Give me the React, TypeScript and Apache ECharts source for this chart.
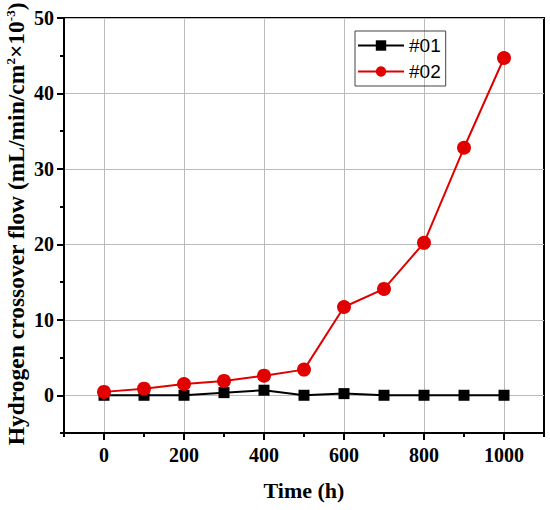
import React, { useEffect, useRef } from 'react';
import * as echarts from 'echarts';

const timeHours = [0, 100, 200, 300, 400, 500, 600, 700, 800, 900, 1000];
const sample01 = [0, 0, 0, 0.35, 0.67, 0, 0.22, 0, 0, 0, 0];
const sample02 = [0.45, 0.88, 1.5, 1.9, 2.6, 3.4, 11.7, 14.1, 20.2, 32.8, 44.7];
const seriesNames = ['#01', '#02'];
const xMajorTicks = [0, 200, 400, 600, 800, 1000];
const yMajorTicks = [0, 10, 20, 30, 40, 50];

const SERIF = 'Liberation Serif, Times New Roman, serif';
const GRID_GRAY = '#bbbbbb';
const NONE = 'rgba(0,0,0,0)';

export default function App() {
  const ref = useRef<HTMLDivElement>(null);
  useEffect(() => {
    if (!ref.current) return;
    const chart = echarts.init(ref.current, null, { renderer: 'svg' });
    const tickLabel = { fontFamily: SERIF, fontWeight: 'bold' as const, fontSize: 20, color: '#000' };
    chart.setOption({
      animation: false,
      backgroundColor: '#fff',
      grid: { left: 64, right: 6, top: 18, bottom: 77, show: true, borderColor: '#000', borderWidth: 2, backgroundColor: 'transparent' },
      legend: {
        data: seriesNames,
        orient: 'vertical',
        left: 355,
        top: 31,
        borderColor: '#444',
        borderWidth: 1,
        padding: [5, 5, 5, 2],
        itemWidth: 46,
        itemHeight: 13,
        itemGap: 7,
        textStyle: { fontFamily: 'Liberation Sans, Arial, sans-serif', fontSize: 19, color: '#000' },
      },
      xAxis: [
        {
          type: 'value',
          min: -100,
          max: 1100,
          position: 'bottom',
          name: 'Time (h)',
          nameLocation: 'middle',
          nameGap: 46,
          nameTextStyle: { fontFamily: SERIF, fontWeight: 'bold', fontSize: 22, color: '#000' },
          axisLine: { show: true, onZero: false, lineStyle: { color: '#000', width: 2 } },
          axisTick: { show: true, length: 7, inside: false, customValues: xMajorTicks, lineStyle: { color: '#000', width: 2 } },
          axisLabel: { ...tickLabel, margin: 12, customValues: xMajorTicks, formatter: (v: number) => String(v) },
          splitLine: { show: false },
          z: 5,
        },
        {
          type: 'value',
          min: -100,
          max: 1100,
          interval: 100,
          position: 'bottom',
          axisLine: { show: false, onZero: false },
          axisTick: { show: true, length: 4, inside: false, lineStyle: { color: '#000', width: 2 } },
          axisLabel: { show: false },
          splitLine: { show: true, lineStyle: { color: [NONE, GRID_GRAY], width: 1 } },
          z: 1,
        },
      ],
      yAxis: [
        {
          type: 'value',
          min: -5,
          max: 50,
          position: 'left',
          axisLine: { show: true, onZero: false, lineStyle: { color: '#000', width: 2 } },
          axisTick: { show: true, length: 7, inside: false, customValues: yMajorTicks, lineStyle: { color: '#000', width: 2 } },
          axisLabel: { ...tickLabel, margin: 10, customValues: yMajorTicks },
          splitLine: { show: false },
          z: 5,
        },
        {
          type: 'value',
          min: -5,
          max: 50,
          interval: 5,
          position: 'left',
          axisLine: { show: false, onZero: false },
          axisTick: { show: true, length: 4, inside: false, lineStyle: { color: '#000', width: 2 } },
          axisLabel: { show: false },
          splitLine: { show: true, lineStyle: { color: [NONE, GRID_GRAY], width: 1 } },
          z: 1,
        },
      ],
      graphic: [
        {
          type: 'text',
          x: 16,
          y: 224,
          rotation: Math.PI / 2,
          style: {
            text: '{t|Hydrogen crossover flow (mL/min/cm}{s|2}{t|×10}{s|-3}{t|)}',
            align: 'center',
            verticalAlign: 'middle',
            fill: '#000',
            rich: {
              t: { fontFamily: SERIF, fontWeight: 'bold', fontSize: 23.5, fill: '#000', lineHeight: 24 },
              s: { fontFamily: SERIF, fontWeight: 'bold', fontSize: 13, fill: '#000', verticalAlign: 'top', lineHeight: 14 },
            },
          },
        },
      ],
      series: [
        {
          name: seriesNames[0],
          type: 'line',
          xAxisIndex: 0,
          yAxisIndex: 0,
          data: timeHours.map((t, i) => [t, sample01[i]]),
          symbol: 'rect',
          symbolSize: 11,
          itemStyle: { color: '#000' },
          lineStyle: { color: '#000', width: 2 },
          z: 3,
        },
        {
          name: seriesNames[1],
          type: 'line',
          xAxisIndex: 0,
          yAxisIndex: 0,
          data: timeHours.map((t, i) => [t, sample02[i]]),
          symbol: 'circle',
          symbolSize: 14,
          itemStyle: { color: '#e00000' },
          lineStyle: { color: '#e00000', width: 2 },
          z: 4,
        },
      ],
    });
    return () => chart.dispose();
  }, []);
  return <div ref={ref} style={{ position: 'fixed', left: 0, top: 0, width: 550, height: 510 }} />;
}
